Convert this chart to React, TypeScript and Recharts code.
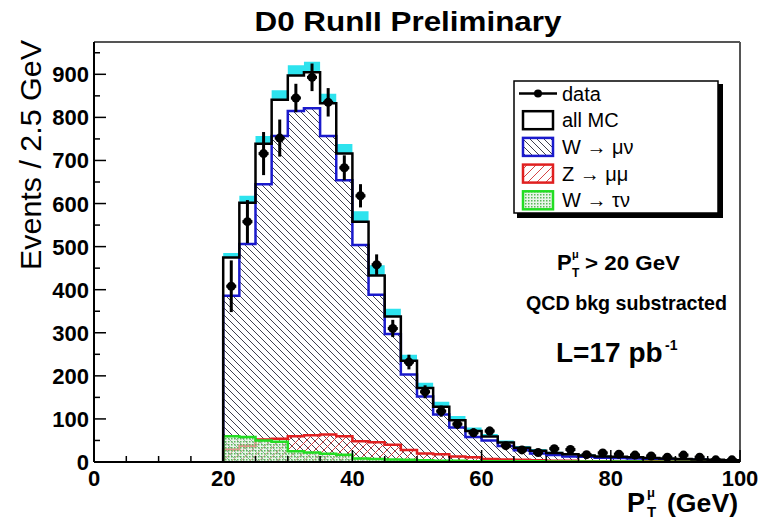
import React from "react";
import {
  ComposedChart,
  Area,
  Line,
  Scatter,
  XAxis,
  YAxis,
  ErrorBar,
  ReferenceLine,
  Legend,
} from "recharts";

// bin edges in GeV (2.5 GeV bins)
const edges = [
  20, 22.5, 25, 27.5, 30, 32.5, 35, 37.5, 40, 42.5, 45, 47.5, 50, 52.5, 55, 57.5,
  60, 62.5, 65, 67.5, 70, 72.5, 75, 77.5, 80, 82.5, 85, 87.5, 90, 92.5, 95, 97.5, 100,
];

const dataCounts = [
  408, 558, 716, 752, 845, 893, 835, 683, 618, 458, 310, 232, 163, 118, 88, 68,
  72, 38, 28, 22, 31, 29, 17, 21, 18, 16, 14, 11, 16, 11, 5, 5,
];
const dataErrors = [
  60, 50, 50, 43, 33, 32, 33, 29, 27, 24, 20, 17, 15, 13, 11, 10,
  10, 8, 7, 6, 7, 7, 5, 5, 5, 5, 4, 4, 5, 4, 3, 3,
];
const allMC = [
  475, 602, 739, 841, 897, 905, 833, 716, 558, 433, 338, 235, 172, 128, 97, 72,
  59, 45, 33, 26, 21, 18, 15, 13, 12, 11, 9, 8, 7, 6, 5, 4,
];
const mcErr = [
  10, 16, 18, 22, 24, 24, 22, 22, 24, 24, 18, 14, 12, 12, 10, 8,
  6, 5, 4, 4, 3, 3, 3, 2, 2, 2, 2, 2, 2, 2, 2, 2,
];
const wMuNu = [
  386, 506, 645, 757, 815, 821, 757, 654, 504, 388, 297, 203, 152, 110, 80, 58,
  50, 37, 27, 20, 16, 13, 12, 10, 9, 8, 7, 6, 5, 5, 4, 3,
];
const zMuMu = [
  29, 38, 52, 54, 60, 62, 64, 60, 48, 46, 40, 28, 20, 18, 13, 11,
  7, 6, 5, 4, 3, 3, 2, 2, 2, 1.5, 1.5, 1, 1, 1, 1, 1,
];
const wTauNu = [
  60, 58, 50, 47, 25, 22, 19, 17, 8, 7, 6, 5, 4, 3, 3, 2,
  2, 2, 1.5, 1.5, 1, 1, 1, 1, 1, 1, 0.5, 0.5, 0.5, 0.5, 0.5, 0.5,
];

const xTicks = [0, 5, 10, 15, 20, 25, 30, 35, 40, 45, 50, 55, 60, 65, 70, 75, 80, 85, 90, 95, 100];
const yTicks = [0, 50, 100, 150, 200, 250, 300, 350, 400, 450, 500, 550, 600, 650, 700, 750, 800, 850, 900, 950];
const yMax = 975;

const FONT = "'Liberation Sans', Arial, Helvetica, sans-serif";

// step rows: closed at both ends so outlines drop to zero
const stepRows: any[] = [{ x: edges[0], all: 0, w: 0, z: 0, t: 0, band: [0, 0] }];
for (let i = 0; i < dataCounts.length; i++) {
  stepRows.push({
    x: edges[i],
    all: allMC[i],
    w: wMuNu[i],
    z: zMuMu[i],
    t: wTauNu[i],
    band: [allMC[i], allMC[i] + mcErr[i]],
  });
}
const last = dataCounts.length - 1;
stepRows.push({
  x: edges[last + 1],
  all: allMC[last],
  w: wMuNu[last],
  z: zMuMu[last],
  t: wTauNu[last],
  band: [allMC[last], allMC[last] + mcErr[last]],
});
stepRows.push({ x: edges[last + 1], all: 0, w: 0, z: 0, t: 0, band: [0, 0] });

const points = dataCounts.map((v, i) => ({
  x: (edges[i] + edges[i + 1]) / 2,
  y: v,
  err: dataErrors[i],
}));

const DataPoint = (props: any) => {
  const { cx, cy } = props;
  if (cx == null || cy == null) return null;
  return (
    <g>
      <line x1={cx - 5} x2={cx + 5} y1={cy} y2={cy} stroke="#000" strokeWidth={3} />
      <circle cx={cx} cy={cy} r={4.5} fill="#000" />
    </g>
  );
};

const XTick = (props: any) => {
  const { x, y, payload } = props;
  const v = payload.value;
  const major = v % 20 === 0;
  return (
    <g>
      <line x1={x} x2={x} y1={y} y2={y - (major ? 12 : 6)} stroke="#000" strokeWidth={1.5} />
      {major && (
        <text x={x} y={y + 24} textAnchor="middle" fontSize={22} fontWeight="bold" fontFamily={FONT} fill="#000">
          {v}
        </text>
      )}
    </g>
  );
};

const YTick = (props: any) => {
  const { x, y, payload } = props;
  const v = payload.value;
  const major = v % 100 === 0;
  return (
    <g>
      <line x1={x} x2={x + (major ? 12 : 6)} y1={y} y2={y} stroke="#000" strokeWidth={1.5} />
      {major && (
        <text x={x - 5} y={y + 8} textAnchor="end" fontSize={22} fontWeight="bold" fontFamily={FONT} fill="#000">
          {v}
        </text>
      )}
    </g>
  );
};

const legendRows = [
  { key: "data", label: "data" },
  { key: "all", label: "all MC" },
  { key: "w", label: "W \u2192 \u03bc\u03bd" },
  { key: "z", label: "Z \u2192 \u03bc\u03bc" },
  { key: "t", label: "W \u2192 \u03c4\u03bd" },
];

const LegendBox = () => (
  <svg width={214} height={142} style={{ display: "block" }}>
    <rect x={4} y={4} width={206} height={134} fill="#000" />
    <rect x={1} y={1} width={204} height={132} fill="#fff" stroke="#000" strokeWidth={1.5} />
    {legendRows.map((r, i) => {
      const cy = 13.5 + i * 26.7;
      let sym: React.ReactNode = null;
      if (r.key === "data") {
        sym = (
          <g>
            <line x1={6} x2={44} y1={cy} y2={cy} stroke="#000" strokeWidth={2.5} />
            <circle cx={25} cy={cy} r={4} fill="#000" />
          </g>
        );
      } else {
        const fill = r.key === "all" ? "#fff" : r.key === "w" ? "url(#hatchW)" : r.key === "z" ? "url(#hatchZ)" : "url(#dotsG)";
        const stroke = r.key === "all" ? "#000" : r.key === "w" ? "#1a1acc" : r.key === "z" ? "#e02020" : "#22dd22";
        sym = <rect x={10} y={cy - 9} width={30} height={18} fill={fill} stroke={stroke} strokeWidth={2.5} />;
      }
      return (
        <g key={r.key}>
          {sym}
          <text x={49} y={cy + 7} fontSize={20} fontFamily={FONT} fill="#000">
            {r.label}
          </text>
        </g>
      );
    })}
  </svg>
);

export default function App() {
  return (
    <div style={{ position: "absolute", left: 0, top: 0, width: 765, height: 520, background: "#fff" }}>
      <ComposedChart
        width={765}
        height={520}
        data={stepRows}
        margin={{ top: 42, right: 25, bottom: 0, left: 0 }}
      >
        <defs>
          <pattern id="hatchW" patternUnits="userSpaceOnUse" width={7} height={7}>
            <path d="M-1,-1 L8,8 M-1,6 L1,8 M6,-1 L8,1" stroke="#2a2a3a" strokeWidth={0.9} />
          </pattern>
          <pattern id="hatchZ" patternUnits="userSpaceOnUse" width={9} height={9}>
            <path d="M-1,10 L10,-1 M-1,1 L1,-1 M8,10 L10,8" stroke="#d03030" strokeWidth={0.9} />
          </pattern>
          <pattern id="dotsG" patternUnits="userSpaceOnUse" width={3} height={3}>
            <rect x={0} y={0} width={3} height={3} fill="#d8ecd8" fillOpacity={0.6} />
            <rect x={0} y={0} width={1.5} height={1.5} fill="#58b858" />
          </pattern>
        </defs>
        <XAxis
          dataKey="x"
          type="number"
          domain={[0, 100]}
          ticks={xTicks}
          interval={0}
          tick={<XTick />}
          tickLine={false}
          tickSize={0}
          tickMargin={0}
          height={58}
          axisLine={{ stroke: "#000", strokeWidth: 2 }}
          allowDataOverflow
        />
        <YAxis
          type="number"
          domain={[0, yMax]}
          ticks={yTicks}
          interval={0}
          tick={<YTick />}
          tickLine={false}
          tickSize={0}
          tickMargin={0}
          width={94}
          axisLine={{ stroke: "#000", strokeWidth: 2 }}
          allowDataOverflow
        />
        <ReferenceLine y={yMax} stroke="#555" strokeWidth={2} />
        <ReferenceLine x={100} stroke="#555" strokeWidth={2} />
        <Area
          dataKey="band"
          type="stepAfter"
          stroke="none"
          fill="#2de3ee"
          fillOpacity={1}
          isAnimationActive={false}
        />
        <Area
          dataKey="w"
          type="stepAfter"
          stroke="#1a1acc"
          strokeWidth={2.5}
          fill="url(#hatchW)"
          fillOpacity={1}
          isAnimationActive={false}
        />
        <Area
          dataKey="z"
          type="stepAfter"
          stroke="#e02020"
          strokeWidth={2.5}
          fill="url(#hatchZ)"
          fillOpacity={1}
          isAnimationActive={false}
        />
        <Area
          dataKey="t"
          type="stepAfter"
          stroke="#22dd22"
          strokeWidth={2.5}
          fill="url(#dotsG)"
          fillOpacity={1}
          isAnimationActive={false}
        />
        <Line
          dataKey="all"
          type="stepAfter"
          stroke="#000"
          strokeWidth={2.5}
          dot={false}
          isAnimationActive={false}
        />
        <Scatter data={points} dataKey="y" shape={DataPoint} isAnimationActive={false}>
          <ErrorBar dataKey="err" direction="y" width={0} stroke="#000" strokeWidth={3} />
        </Scatter>
        <Legend
          layout="horizontal"
          verticalAlign="middle"
          align="center"
          content={<LegendBox />}
          wrapperStyle={{ position: "absolute", left: 513, top: 80, width: 214, height: 142 }}
        />
      </ComposedChart>
      <svg
        width={765}
        height={520}
        style={{ position: "absolute", left: 0, top: 0, pointerEvents: "none" }}
        fontFamily={FONT}
      >
        <text x={408} y={31} textAnchor="middle" fontSize={28} fontWeight="bold" textLength={307} lengthAdjust="spacingAndGlyphs">
          D0 RunII Preliminary
        </text>
        <text transform="translate(41,155) rotate(-90)" textAnchor="middle" fontSize={30} textLength={230} lengthAdjust="spacingAndGlyphs">
          Events / 2.5 GeV
        </text>
        <g fontWeight="bold">
          <text x={627} y={512} fontSize={27}>P</text>
          <text x={647} y={497} fontSize={13}>{"\u03bc"}</text>
          <text x={647} y={517} fontSize={15}>T</text>
          <text x={667} y={512} fontSize={26} textLength={71} lengthAdjust="spacingAndGlyphs">(GeV)</text>

          <text x={557} y={270} fontSize={22}>P</text>
          <text x={572} y={258} fontSize={11}>{"\u03bc"}</text>
          <text x={572} y={277} fontSize={12}>T</text>
          <text x={585} y={270} fontSize={21} textLength={95} lengthAdjust="spacingAndGlyphs">{"> 20 GeV"}</text>

          <text x={526} y={310} fontSize={21} textLength={201} lengthAdjust="spacingAndGlyphs">QCD bkg substracted</text>

          <text x={556} y={362} fontSize={28}>L=17 pb</text>
          <text x={665} y={350} fontSize={14}>-1</text>
        </g>
      </svg>
    </div>
  );
}
